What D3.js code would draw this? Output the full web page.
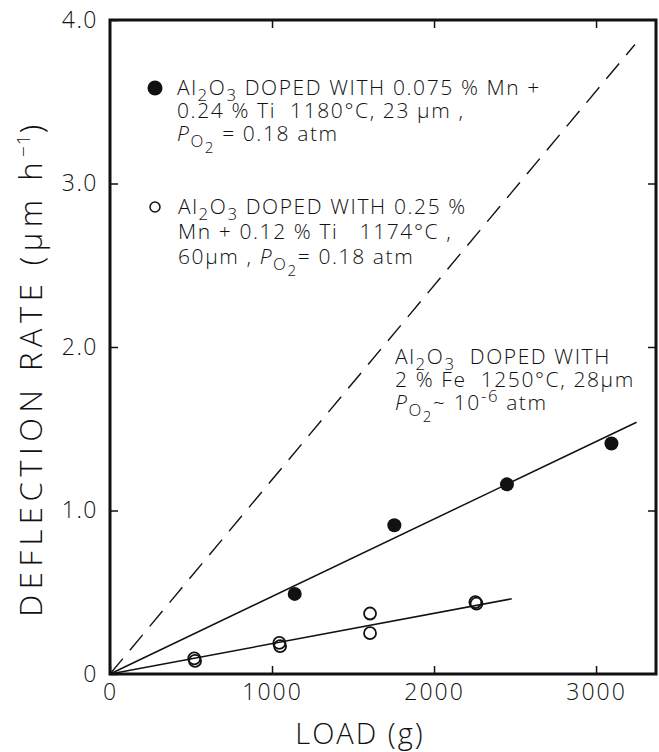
<!DOCTYPE html>
<html>
<head>
<meta charset="utf-8">
<script src="https://cdn.jsdelivr.net/npm/d3@7"></script>
<style>
    body { margin: 0; background: #fff; }
    text { font-family: "Open Sans", "DejaVu Sans", sans-serif; font-weight: 300; fill: #111; }
</style>
</head>
<body>
<div id="draw"></div>
<script>
// values
const xTicks = [0, 1000, 2000, 3000];
const yTicks = [0, 1, 2, 3, 4];
const yTickLabels = ['0', '1.0', '2.0', '3.0', '4.0'];

// Al2O3 + 0.075% Mn + 0.24% Ti (filled)
const mnLoad = [1140, 1755, 2450, 3095];
const mnRate = [0.49, 0.91, 1.16, 1.41];
// Al2O3 + 0.25% Mn + 0.12% Ti (open)
const tiLoad = [520, 525, 1045, 1050, 1605, 1605, 2255, 2262];
const tiRate = [0.095, 0.08, 0.19, 0.17, 0.37, 0.25, 0.44, 0.43];

// fitted lines (end points)
const mnFitLoad = [0, 3250], mnFitRate = [0, 1.54];
const tiFitLoad = [0, 2480], tiFitRate = [0, 0.46];
const feLoad = [0, 3240], feRate = [0, 3.85];

const legendMn = ['Al_{2}O_{3} DOPED WITH 0.075 % Mn +', '0.24 % Ti  1180°C, 23 μm ,', '*P*_{O}__{2} = 0.18 atm'];
const legendTi = ['Al_{2}O_{3} DOPED WITH 0.25 %', 'Mn + 0.12 % Ti   1174°C ,', '60μm , *P*_{O}__{2}= 0.18 atm'];
const legendFe = ['Al_{2}O_{3}  DOPED WITH', '2 % Fe  1250°C, 28μm', '*P*_{O}__{2}~ 10^{-6} atm'];

let width = 659,
    height = 752;

let svg = d3.select('#draw')
    .append('svg')
    .attr('width', width)
    .attr('height', height);

let x = d3.scaleLinear().domain([0, 3370]).range([110, 656]),
    y = d3.scaleLinear().domain([0, 4]).range([674, 20]);

// inward ticks on all four sides
svg.append('g').attr('transform', 'translate(0,' + y(0) + ')')
    .call(d3.axisBottom(x).tickValues(xTicks).tickSizeInner(-8).tickSizeOuter(0).tickPadding(10).tickFormat(d3.format('d')))
    .call(g => g.select('.domain').remove())
    .call(g => g.selectAll('text').attr('font-size', 23).attr('letter-spacing', 2).style('font-family', null));

svg.append('g').attr('transform', 'translate(0,' + y(4) + ')')
    .call(d3.axisTop(x).tickValues(xTicks.slice(1)).tickSizeInner(-8).tickSizeOuter(0).tickFormat(''))
    .call(g => g.select('.domain').remove());

svg.append('g').attr('transform', 'translate(' + x(0) + ',0)')
    .call(d3.axisLeft(y).tickValues(yTicks).tickSizeInner(-8).tickSizeOuter(0).tickPadding(12).tickFormat((d, i) => yTickLabels[i]))
    .call(g => g.select('.domain').remove())
    .call(g => g.selectAll('text').attr('font-size', 23).attr('letter-spacing', 1.5).style('font-family', null));

svg.append('g').attr('transform', 'translate(' + x(3370) + ',0)')
    .call(d3.axisRight(y).tickValues(yTicks.slice(1, 4)).tickSizeInner(-8).tickSizeOuter(0).tickFormat(''))
    .call(g => g.select('.domain').remove());

svg.selectAll('.tick line').attr('stroke', '#111').attr('stroke-width', 1.5);

svg.append('rect')
    .attr('x', x(0)).attr('y', y(4))
    .attr('width', x(3370) - x(0)).attr('height', y(0) - y(4))
    .attr('fill', 'none').attr('stroke', '#111').attr('stroke-width', 3);

// lines
let line = d3.line().x(d => x(d[0])).y(d => y(d[1]));
svg.append('path').datum(d3.zip(feLoad, feRate)).attr('d', line)
    .attr('fill', 'none').attr('stroke', '#111').attr('stroke-width', 1.4).attr('stroke-dasharray', '20,11');
svg.append('path').datum(d3.zip(mnFitLoad, mnFitRate)).attr('d', line)
    .attr('fill', 'none').attr('stroke', '#111').attr('stroke-width', 1.5);
svg.append('path').datum(d3.zip(tiFitLoad, tiFitRate)).attr('d', line)
    .attr('fill', 'none').attr('stroke', '#111').attr('stroke-width', 1.5);

// points
svg.append('g').selectAll('circle')
    .data(d3.zip(mnLoad, mnRate))
    .enter().append('circle')
    .attr('cx', d => x(d[0])).attr('cy', d => y(d[1])).attr('r', 7)
    .attr('fill', '#111');

svg.append('g').selectAll('circle')
    .data(d3.zip(tiLoad, tiRate))
    .enter().append('circle')
    .attr('cx', d => x(d[0])).attr('cy', d => y(d[1])).attr('r', 6)
    .attr('fill', 'none').attr('stroke', '#111').attr('stroke-width', 1.8);

// text with sub/superscripts: _{..} sub, __{..} sub of sub, ^{..} sup, *..* italic
function richText(sel, str, size) {
    let parts = str.split(/(\*[^*]+\*|__\{[^}]+\}|_\{[^}]+\}|\^\{[^}]+\})/).filter(s => s.length);
    let level = 0;
    let shift = { 0: 0, 1: 6, 2: 12, '-1': -8 };
    parts.forEach(p => {
        let lv = 0, t = p, it = false;
        if (p.startsWith('__{')) { lv = 2; t = p.slice(3, -1); }
        else if (p.startsWith('_{')) { lv = 1; t = p.slice(2, -1); }
        else if (p.startsWith('^{')) { lv = -1; t = p.slice(2, -1); }
        else if (p.startsWith('*')) { it = true; t = p.slice(1, -1); }
        let ts = sel.append('tspan').text(t)
            .attr('dy', shift[lv] - shift[level])
            .attr('font-size', lv == 0 ? size : (lv == 2 ? size * 0.72 : size * 0.8));
        if (it) ts.attr('font-style', 'italic');
        level = lv;
    });
}

function legendBlock(lines, x0, y0, dy) {
    lines.forEach((l, i) => {
        let t = svg.append('text')
            .attr('x', x0).attr('y', y0 + i * dy)
            .attr('font-size', 21)
            .attr('font-weight', 400)
            .attr('letter-spacing', 1.6)
            .style('white-space', 'pre');
        richText(t, l, 21);
    });
}

legendBlock(legendMn, 177, 95, 23);
legendBlock(legendTi, 178, 214, 25);
legendBlock(legendFe, 395, 364, 23);

svg.append('circle').attr('cx', 155).attr('cy', 88).attr('r', 7.5).attr('fill', '#111');
svg.append('circle').attr('cx', 155).attr('cy', 207).attr('r', 5).attr('fill', 'none').attr('stroke', '#111').attr('stroke-width', 1.5);

// axis titles
let yt = svg.append('text')
    .attr('transform', 'translate(42,368) rotate(-90)')
    .attr('text-anchor', 'middle')
    .attr('font-size', 31)
    .attr('letter-spacing', 5.5)
    .style('white-space', 'pre');
yt.append('tspan').text('DEFLECTION RATE (μm h');
yt.append('tspan').attr('dy', -12).attr('font-size', 19).attr('letter-spacing', 1).text('−1');
yt.append('tspan').attr('dy', 12).text(')');

svg.append('text')
    .attr('x', 360).attr('y', 744)
    .attr('text-anchor', 'middle')
    .attr('font-size', 29)
    .attr('letter-spacing', 2)
    .text('LOAD (g)');
</script>
</body>
</html>
